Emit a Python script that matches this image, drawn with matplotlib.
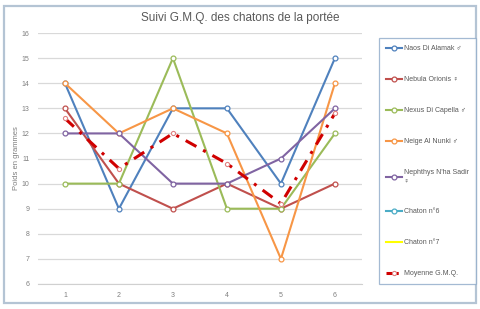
import matplotlib
matplotlib.use("Agg")
import matplotlib.pyplot as plt
import numpy as np
from matplotlib.patches import Rectangle

plt.rcParams['font.family'] = ['Liberation Sans', 'DejaVu Sans']

weeks = [1, 2, 3, 4, 5, 6]
naos = [14, 9, 13, 13, 10, 15]
nebula = [13, 10, 9, 10, 9, 10]
nexus = [10, 10, 15, 9, 9, 12]
neige = [14, 12, 13, 12, 7, 14]
nephthys = [12, 12, 10, 10, 11, 13]
chaton6 = [np.nan] * 6
chaton7 = [np.nan] * 6
moyenne = [12.6, 10.6, 12.0, 10.8, 9.2, 12.8]

labels = ["Naos Di Alamak \u2642", "Nebula Orionis \u2640", "Nexus Di Capella \u2642",
          "Neige Al Nunki \u2642", "Nephthys N'ha Sadir\n\u2640", "Chaton n\u00b06",
          "Chaton n\u00b07", "Moyenne G.M.Q."]
colors = ["#4F81BD", "#C0504D", "#9BBB59", "#F79646", "#8064A2", "#4BACC6", "#FFFF00", "#D00000"]

fig = plt.figure(figsize=(4.8, 3.09), dpi=100)
ax = fig.add_axes([0.079, 0.081, 0.675, 0.812])

series = [naos, nebula, nexus, neige, nephthys, chaton6]
handles = []
for s, c, l in zip(series, colors[:6], labels[:6]):
    h, = ax.plot(weeks, s, color=c, lw=1.5, marker='o', ms=3.5, mfc='white', mec=c, mew=0.9, label=l, zorder=3)
    handles.append(h)
h, = ax.plot(weeks, chaton7, color=colors[6], lw=1.5, label=labels[6])
handles.append(h)
h, = ax.plot(weeks, moyenne, color=colors[7], lw=2.2, ls=(0, (4, 2.5, 1, 2.5)), marker='o', ms=3, mfc='white', mec='#E08080', mew=0.8, label=labels[7], zorder=4)
handles.append(h)

ax.set_xlim(0.5, 6.5)
ax.set_ylim(6, 16)
ax.set_xticks(weeks)
ax.set_yticks(range(6, 17))
ax.grid(axis='y', color='#D9D9D9', lw=0.9)
ax.set_axisbelow(True)
for sp in ['left', 'right', 'top']:
    ax.spines[sp].set_visible(False)
ax.spines['bottom'].set_color('#D0D0D0')
ax.tick_params(length=0, labelsize=5, colors='#7F7F7F', pad=6)
ax.set_ylabel("Poids en grammes", fontsize=5.5, color='#7F7F7F', labelpad=1)

fig.text(0.5, 0.942, "Suivi G.M.Q. des chatons de la portée", ha='center', va='center',
         fontsize=8.5, color='#595959')

leg = fig.legend(handles=handles, labels=labels, loc='upper left', bbox_to_anchor=(0.782, 0.887),
                 fontsize=5, frameon=True, fancybox=False, labelspacing=3.45, handlelength=2.3,
                 handletextpad=0.3, borderpad=1.0, labelcolor='#595959', edgecolor='#8EA9C8')
leg.get_frame().set_linewidth(0.9)

fig.patches.append(Rectangle((0.008, 0.018), 0.984, 0.964, transform=fig.transFigure,
                             fill=False, edgecolor='#B4C4D4', lw=1.6))

fig.savefig("out.png", dpi=100)
